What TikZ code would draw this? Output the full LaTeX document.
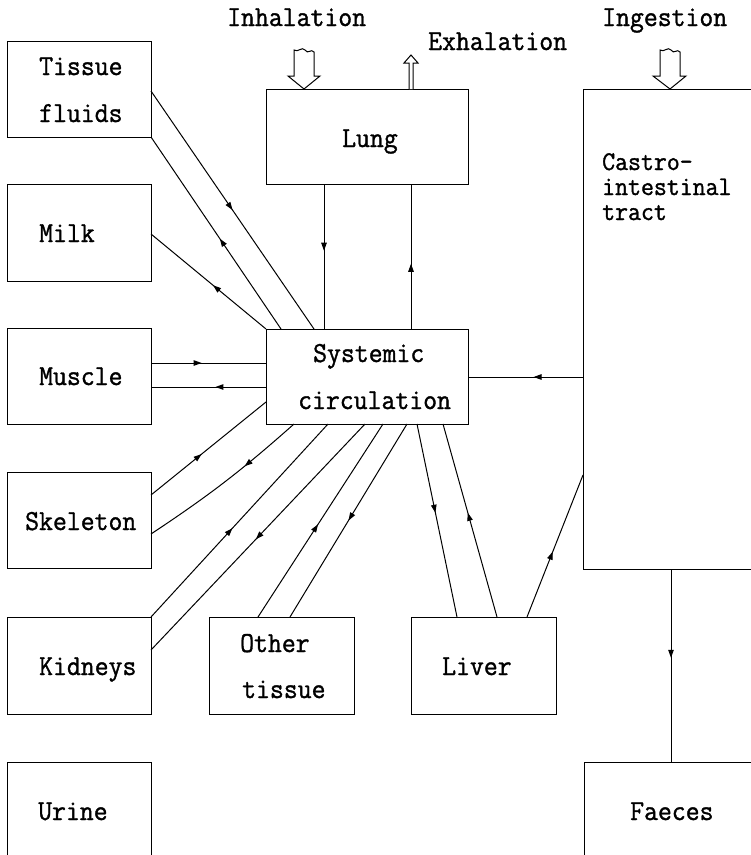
\documentclass[tikz,border=0pt]{standalone}
\usepackage{fontspec}
\newfontfamily\dfont[FakeStretch=0.93,FakeBold=1.2]{Latin Modern Mono}
\usetikzlibrary{calc,decorations.markings,arrows.meta}
\tikzset{
  box/.style={draw,line width=1pt,rectangle,inner sep=0pt,outer sep=0pt,anchor=north west},
  lbl/.style={anchor=base west,inner sep=0pt,font=\dfont\fontsize{29pt}{29pt}\selectfont},
  smalllbl/.style={lbl,font=\dfont\fontsize{27pt}{27pt}\selectfont},
  flow/.style={line width=1pt,postaction={decorate},
    decoration={markings,mark=at position #1 with {\arrow{Triangle[length=8pt,width=5.5pt]}}}},
  flow/.default=0.5,
  hollow/.style={draw,line width=1pt,fill=white,line join=miter}
}
\begin{document}
\begin{tikzpicture}[x=1pt,y=-1pt]
\useasboundingbox (0,0) rectangle (751,855);
\clip (0,0) rectangle (751,855);
\fill[white] (0,0) rectangle (751,855);
% boxes
\node[box,minimum width=144pt,minimum height=96pt] (tf) at (7,41) {};
\node[box,minimum width=144pt,minimum height=97pt] (milk) at (7,184) {};
\node[box,minimum width=144pt,minimum height=96pt] (muscle) at (7,328) {};
\node[box,minimum width=144pt,minimum height=96pt] (skel) at (7,472) {};
\node[box,minimum width=144pt,minimum height=97pt] (kid) at (7,617) {};
\node[box,minimum width=144pt,minimum height=120pt] (urine) at (7,762) {};
\node[box,minimum width=202pt,minimum height=95pt] (lung) at (266,89) {};
\node[box,minimum width=202pt,minimum height=95pt] (sys) at (266,329) {};
\node[box,minimum width=145pt,minimum height=97pt] (oth) at (209,617) {};
\node[box,minimum width=145pt,minimum height=97pt] (liver) at (411,617) {};
\node[box,minimum width=190pt,minimum height=480pt] (gi) at (583,89) {};
\node[box,minimum width=190pt,minimum height=120pt] (faeces) at (584,762) {};
% labels
\node[lbl] (t1) at (227,26) {Inhalation};
\node[lbl] (t2) at (428,50) {Exhalation};
\node[lbl] (t3) at (602,26) {Ingestion};
\node[lbl] (t4) at (39,75) {Tissue};
\node[lbl] (t5) at (39,122) {fluids};
\node[lbl] (t6) at (39,242) {Milk};
\node[lbl] (t7) at (39,385) {Muscle};
\node[lbl] (t8) at (25,530) {Skeleton};
\node[lbl] (t9) at (39,675) {Kidneys};
\node[lbl] (t10) at (38,820) {Urine};
\node[lbl] (t11) at (342,147) {Lung};
\node[lbl] (t12) at (313,362) {Systemic};
\node[lbl] (t13) at (298,409) {circulation};
\node[lbl] (t14) at (240,652) {Other};
\node[lbl] (t15) at (242,698) {tissue};
\node[lbl] (t16) at (442,675) {Liver};
\node[lbl] (t17) at (630,820) {Faeces};
\node[smalllbl] (t18) at (602,170) {Castro-};
\node[smalllbl] (t19) at (602,195) {intestinal};
\node[smalllbl] (t20) at (602,220) {tract};
% hollow intake / output arrows
\draw[hollow] (294,76) -- (288,76) -- (304,89) -- (320,76) -- (314,76) -- (314,52)
  .. controls (311,48) and (308,55) .. (305,50) .. controls (302,46) and (298,53) .. (294,50) -- cycle;
\draw[hollow] (660,76) -- (653,76) -- (670,89) -- (686,76) -- (680,76) -- (680,52)
  .. controls (677,48) and (674,55) .. (671,50) .. controls (668,46) and (664,53) .. (660,50) -- cycle;
\draw[hollow] (409,89) -- (409,63) -- (404,63) -- (411,55) -- (418,63) -- (413,63) -- (413,89);
% connectors
\draw[flow] ($(tf.north east)+(0,50)$) -- ($(sys.north west)+(48,0)$);
\draw[flow=0.47] ($(sys.north west)+(15,0)$) -- (tf.south east);
\draw[flow=0.46] (sys.north west) -- ($(milk.north east)+(0,50)$);
\draw[flow=0.44] ($(muscle.north east)+(0,35)$) -- ($(sys.north west)+(0,34)$);
\draw[flow=0.44] ($(sys.north west)+(0,58)$) -- ($(muscle.north east)+(0,59)$);
\draw[flow=0.44] ($(skel.north east)+(0,23)$) -- ($(sys.north west)+(0,73)$);
\draw[flow=0.36] ($(sys.south west)+(28,0)$) to[bend left=4] ($(skel.north east)+(0,62)$);
\draw[flow=0.46] (kid.north east) -- ($(sys.south west)+(62,0)$);
\draw[flow=0.51] ($(sys.south west)+(99,0)$) -- ($(kid.north east)+(0,33)$);
\draw[flow=0.48] ($(oth.north west)+(49,0)$) -- ($(sys.south west)+(117,0)$);
\draw[flow=0.5] ($(sys.south west)+(141,0)$) -- ($(oth.north west)+(81,0)$);
\draw[flow=0.46] ($(sys.south west)+(151,0)$) -- ($(liver.north west)+(46,0)$);
\draw[flow=0.54] ($(liver.north west)+(86,0)$) -- ($(sys.south west)+(177,0)$);
\draw[flow=0.46] ($(liver.north west)+(116,0)$) -- ($(gi.north west)+(0,386)$);
\draw[flow=0.43] ($(gi.north west)+(0,288)$) -- ($(sys.north east)+(0,48)$);
\draw[flow=0.46] ($(gi.south west)+(88,0)$) -- ($(faeces.north west)+(87,0)$);
\draw[flow=0.46] ($(lung.south west)+(58,0)$) -- ($(sys.north west)+(58,0)$);
\draw[flow=0.45] ($(sys.north west)+(145,0)$) -- ($(lung.south west)+(145,0)$);
\end{tikzpicture}
\end{document}
